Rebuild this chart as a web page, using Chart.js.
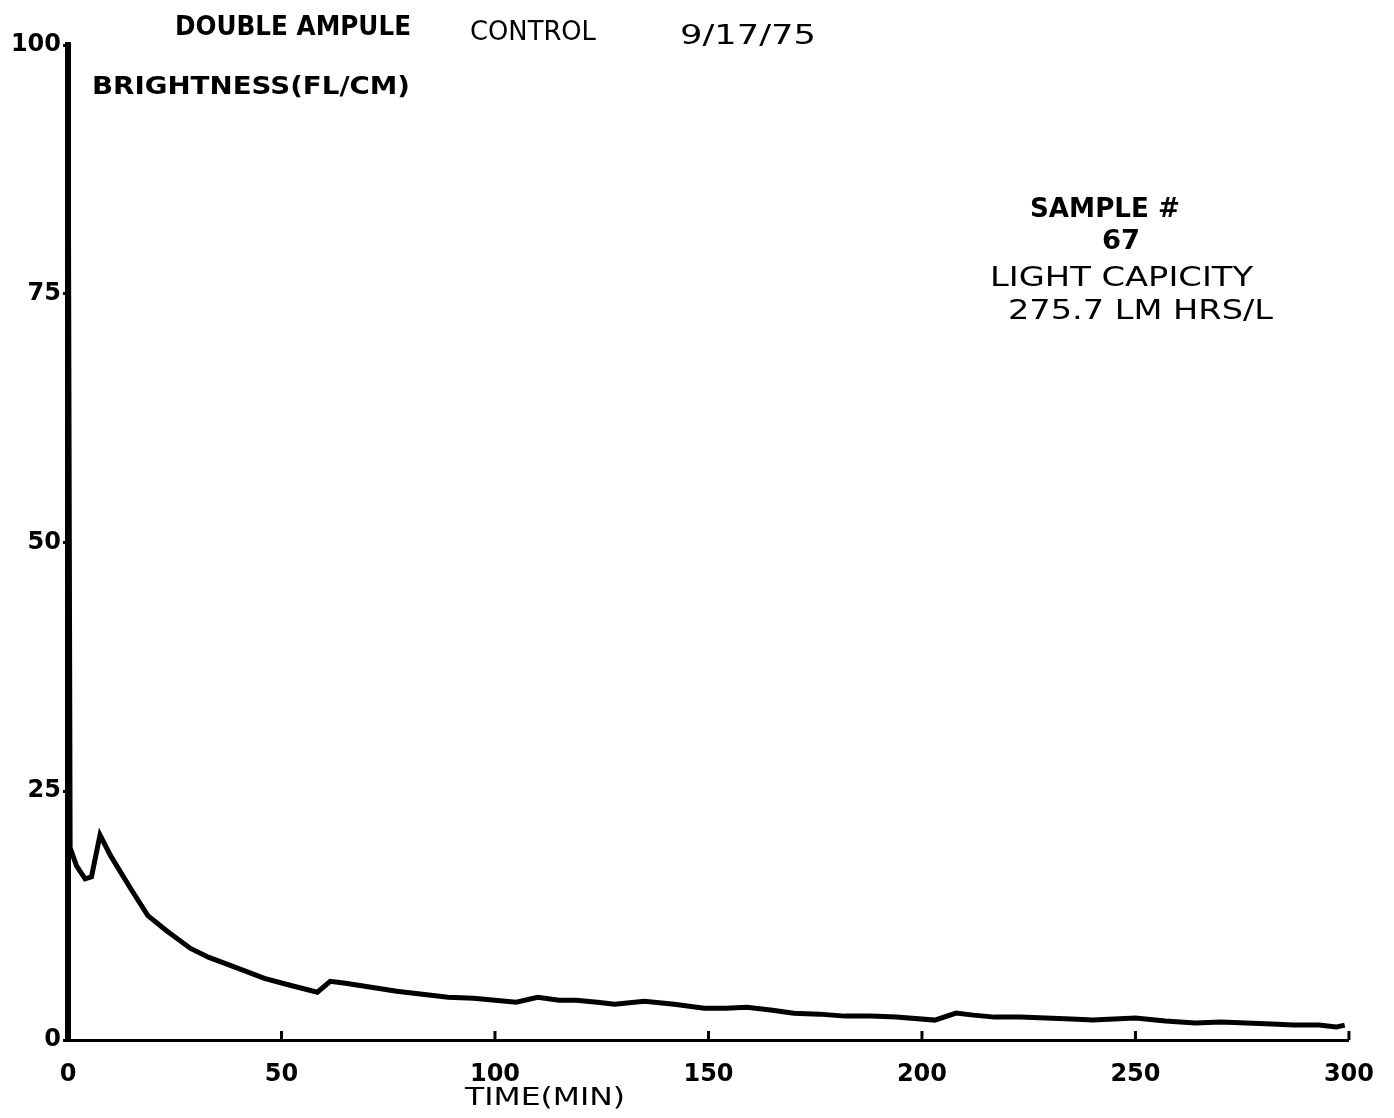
<!DOCTYPE html>
<html>
<head>
<meta charset="utf-8">
<script src="https://cdn.jsdelivr.net/npm/chart.js@4"></script>
<style>
  body { margin: 0; background: #fff; }
</style>
</head>
<body>
<canvas id="brightness-chart" width="1394" height="1118"></canvas>
<script>
// time in minutes, brightness in FL/CM
const timeMin = [0, 0.5, 2, 4, 5.5, 7.5, 10, 14.7, 18.7, 23, 28.7, 33, 38, 46, 52, 58.4, 61.4, 65, 71, 77,
  83, 89, 95, 100, 105, 110, 115, 119, 124, 128, 135, 142, 149, 154, 159, 165, 170, 176, 182, 188,
  194, 203, 208, 212, 217, 223, 229, 235, 240, 245, 250, 257, 264, 270, 276, 282, 287, 293, 297, 299]
const brightness = [100, 19.3, 17.5, 16.2, 16.4, 20.6, 18.5, 15.2, 12.5, 11.0, 9.2, 8.3, 7.5, 6.2, 5.5, 4.8, 5.9, 5.7, 5.3, 4.9,
  4.6, 4.3, 4.2, 4.0, 3.8, 4.3, 4.0, 4.0, 3.8, 3.6, 3.9, 3.6, 3.2, 3.2, 3.3, 3.0, 2.7, 2.6, 2.4, 2.4,
  2.3, 2.0, 2.7, 2.5, 2.3, 2.3, 2.2, 2.1, 2.0, 2.1, 2.2, 1.9, 1.7, 1.8, 1.7, 1.6, 1.5, 1.5, 1.3, 1.5]
const xTickValues = [0, 50, 100, 150, 200, 250, 300]
const yTickValues = [0, 25, 50, 75, 100]

const points = timeMin.map((t, i) => ({ x: t, y: brightness[i] }))

// draw text stretched to a given width, like the old plotter lettering
function plotText(ctx, text, x, y, width) {
  const w = ctx.measureText(text).width
  ctx.save()
  ctx.translate(x, y)
  ctx.scale(width / w, 1)
  ctx.fillText(text, 0, 0)
  ctx.restore()
}

const labelsPlugin = {
  id: 'plotterText',
  afterDraw(chart) {
    const ctx = chart.ctx
    const xs = chart.scales.x
    ctx.save()
    ctx.fillStyle = '#000'
    ctx.strokeStyle = '#000'
    // small upward tick marks on the time axis
    ctx.lineWidth = 3
    xTickValues.slice(1).forEach(v => {
      const px = xs.getPixelForValue(v)
      ctx.beginPath()
      ctx.moveTo(px, chart.chartArea.bottom)
      ctx.lineTo(px, chart.chartArea.bottom - 9)
      ctx.stroke()
    })
    ctx.textBaseline = 'middle'
    ctx.textAlign = 'left'
    ctx.font = "bold 27px 'DejaVu Sans'"
    plotText(ctx, 'DOUBLE AMPULE', 175, 28, 236)
    ctx.font = "26px 'DejaVu Sans'"
    plotText(ctx, 'CONTROL', 470, 33, 126)
    plotText(ctx, '9/17/75', 680, 37, 136)
    ctx.font = "bold 25px 'DejaVu Sans'"
    plotText(ctx, 'BRIGHTNESS(FL/CM)', 92, 87, 318)
    ctx.font = "bold 27px 'DejaVu Sans'"
    plotText(ctx, 'SAMPLE #', 1030, 210, 150)
    plotText(ctx, '67', 1102, 242, 38)
    ctx.font = "27px 'DejaVu Sans'"
    plotText(ctx, 'LIGHT CAPICITY', 990, 279, 263)
    plotText(ctx, '275.7 LM HRS/L', 1008, 312, 265)
    ctx.font = "25px 'DejaVu Sans'"
    plotText(ctx, 'TIME(MIN)', 465, 1098, 160)
    ctx.restore()
  }
}

const config = {
  type: 'line',
  data: {
    datasets: [{
      label: 'Brightness',
      data: points,
      borderColor: '#000',
      borderWidth: 5,
      pointRadius: 0,
      tension: 0,
      fill: false
    }]
  },
  options: {
    responsive: false,
    animation: false,
    layout: {
      padding: { left: 0, right: 39, top: 45, bottom: 0 }
    },
    scales: {
      x: {
        type: 'linear',
        min: 0,
        max: 300,
        afterFit: function (scale) { scale.height = 78 },
        afterBuildTicks: function (scale) { scale.ticks = xTickValues.map(v => ({ value: v })) },
        border: { display: true, color: '#000', width: 3 },
        grid: { display: true, drawOnChartArea: false, drawTicks: false },
        ticks: {
          color: '#000',
          padding: 20,
          maxRotation: 0,
          font: { family: 'DejaVu Sans', size: 24, weight: 'bold' }
        }
      },
      y: {
        type: 'linear',
        min: 0,
        max: 100,
        afterFit: function (scale) { scale.width = 68 },
        afterBuildTicks: function (scale) { scale.ticks = yTickValues.map(v => ({ value: v })) },
        border: { display: true, color: '#000', width: 6 },
        grid: { display: true, drawOnChartArea: false, drawTicks: true, tickLength: 5, color: '#000', lineWidth: 3 },
        ticks: {
          color: '#000',
          padding: 2,
          font: { family: 'DejaVu Sans', size: 24, weight: 'bold' }
        }
      }
    },
    plugins: {
      legend: { display: false },
      tooltip: { enabled: false },
      title: { display: false }
    }
  },
  plugins: [labelsPlugin]
}

const chartElement = document.getElementById('brightness-chart').getContext('2d')
const brightnessChart = new Chart(chartElement, config)
</script>
</body>
</html>
